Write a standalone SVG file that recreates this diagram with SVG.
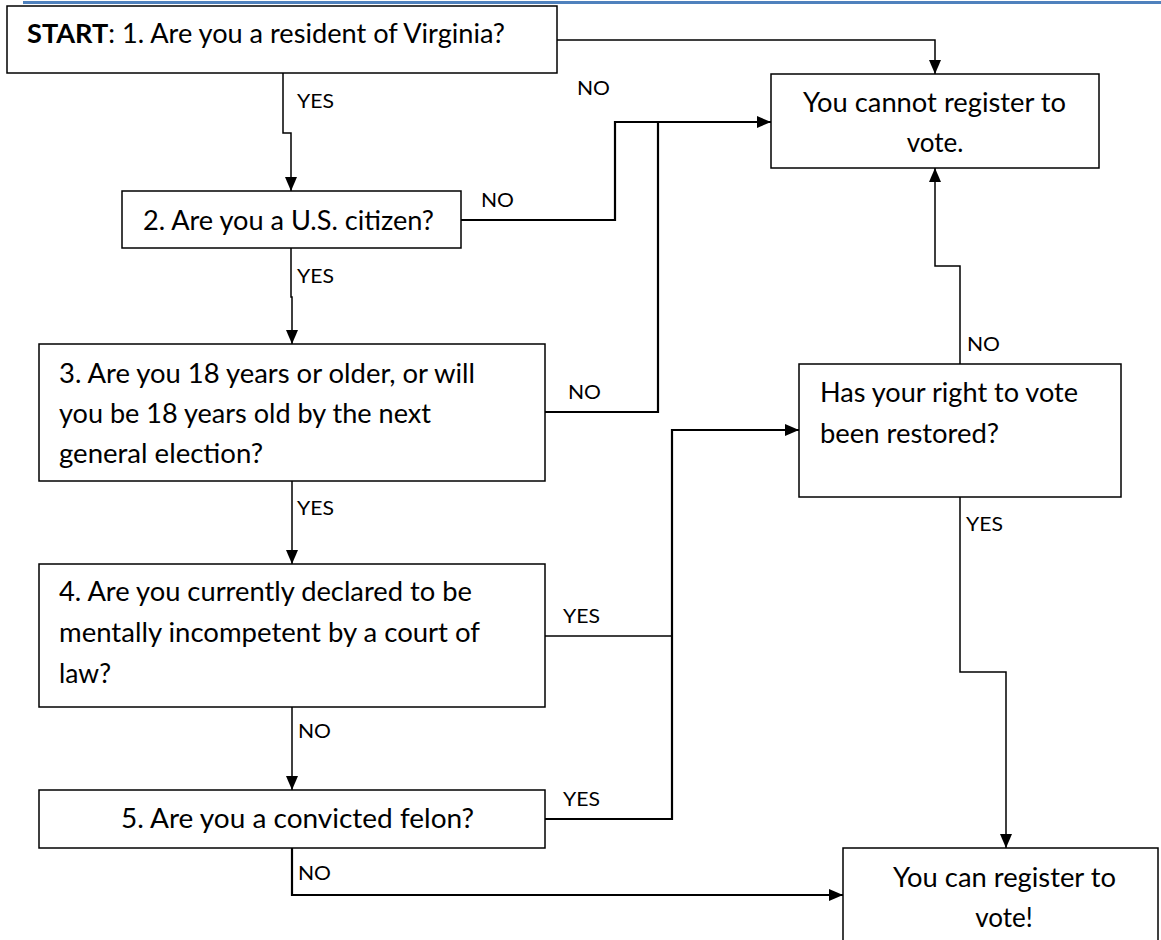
<svg xmlns="http://www.w3.org/2000/svg" width="1161" height="940" viewBox="0 0 1161 940">
<style>
.box{fill:#fff;stroke:#000;stroke-width:1.5}
.t{font-family:Lato,"Open Sans",sans-serif;font-size:26px;fill:#000}
.c{text-anchor:middle}
.lbl{font-family:Lato,"Open Sans",sans-serif;font-size:20px;fill:#000}
.con{fill:none;stroke:#000;stroke-width:1.5}
.thick{stroke-width:2.2}
</style>
<defs>
<marker id="ah" markerUnits="userSpaceOnUse" markerWidth="14" markerHeight="12" refX="14" refY="6" orient="auto" viewBox="0 0 14 12">
<path d="M0,0 L14,6 L0,12 z" fill="#000"/>
</marker>
</defs>
<rect x="0" y="0" width="1161" height="940" fill="#fff"/>
<rect x="23" y="1" width="1138" height="3" fill="#4f81bd"/>

<g id="connectors">
<path class="con" d="M557,40 H935 V74" marker-end="url(#ah)"/>
<path class="con" d="M283,73 V133 H291 V191" marker-end="url(#ah)"/>
<path class="con thick" d="M461,220 H615 V122 H771" marker-end="url(#ah)"/>
<path class="con" d="M291,248 V297 H292 V344" marker-end="url(#ah)"/>
<path class="con thick" d="M545,412 H658 V122"/>
<path class="con" d="M292,481 V564" marker-end="url(#ah)"/>
<path class="con" d="M545,636 H672"/>
<path class="con thick" d="M545,819 H672 V430 H799" marker-end="url(#ah)"/>
<path class="con" d="M292,707 V790" marker-end="url(#ah)"/>
<path class="con thick" d="M292,848 V895 H843" marker-end="url(#ah)"/>
<path class="con" d="M960,364 V266 H935 V168" marker-end="url(#ah)"/>
<path class="con" d="M960,497 V672 H1006 V848" marker-end="url(#ah)"/>
<text class="lbl" x="577" y="95" textLength="33" lengthAdjust="spacingAndGlyphs">NO</text>
<text class="lbl" x="297" y="108" textLength="37" lengthAdjust="spacingAndGlyphs">YES</text>
<text class="lbl" x="481" y="207" textLength="33" lengthAdjust="spacingAndGlyphs">NO</text>
<text class="lbl" x="297" y="283" textLength="37" lengthAdjust="spacingAndGlyphs">YES</text>
<text class="lbl" x="568" y="399" textLength="33" lengthAdjust="spacingAndGlyphs">NO</text>
<text class="lbl" x="297" y="515" textLength="37" lengthAdjust="spacingAndGlyphs">YES</text>
<text class="lbl" x="563" y="623" textLength="37" lengthAdjust="spacingAndGlyphs">YES</text>
<text class="lbl" x="298" y="738" textLength="33" lengthAdjust="spacingAndGlyphs">NO</text>
<text class="lbl" x="563" y="806" textLength="37" lengthAdjust="spacingAndGlyphs">YES</text>
<text class="lbl" x="298" y="880" textLength="33" lengthAdjust="spacingAndGlyphs">NO</text>
<text class="lbl" x="967" y="351" textLength="33" lengthAdjust="spacingAndGlyphs">NO</text>
<text class="lbl" x="966" y="531" textLength="37" lengthAdjust="spacingAndGlyphs">YES</text>
</g>

<g id="q1">
<rect class="box" x="7" y="6" width="550" height="67"/>
<text class="t" x="27" y="43" textLength="478" lengthAdjust="spacingAndGlyphs"><tspan font-weight="bold">START</tspan>: 1. Are you a resident of Virginia?</text>
</g>
<g id="cannot">
<rect class="box" x="771" y="74" width="328" height="94"/>
<text class="t" x="771" y="112" dx="32" textLength="263" lengthAdjust="spacingAndGlyphs">You cannot register to</text>
<text class="t c" x="935" y="152">vote.</text>
</g>
<g id="q2">
<rect class="box" x="122" y="191" width="339" height="57"/>
<text class="t" x="143" y="230" textLength="291" lengthAdjust="spacingAndGlyphs">2. Are you a U.S. citizen?</text>
</g>
<g id="q3">
<rect class="box" x="39" y="344" width="506" height="137"/>
<text class="t" x="59" y="383" textLength="416" lengthAdjust="spacingAndGlyphs">3. Are you 18 years or older, or will</text>
<text class="t" x="59" y="423" textLength="372" lengthAdjust="spacingAndGlyphs">you be 18 years old by the next</text>
<text class="t" x="59" y="463" textLength="204" lengthAdjust="spacingAndGlyphs">general election?</text>
</g>
<g id="q4">
<rect class="box" x="39" y="564" width="506" height="143"/>
<text class="t" x="59" y="601" textLength="413" lengthAdjust="spacingAndGlyphs">4. Are you currently declared to be</text>
<text class="t" x="59" y="642" textLength="421" lengthAdjust="spacingAndGlyphs">mentally incompetent by a court of</text>
<text class="t" x="59" y="683" textLength="52" lengthAdjust="spacingAndGlyphs">law?</text>
</g>
<g id="q5">
<rect class="box" x="39" y="790" width="506" height="58"/>
<text class="t" x="121" y="828" textLength="353" lengthAdjust="spacingAndGlyphs">5. Are you a convicted felon?</text>
</g>
<g id="restored">
<rect class="box" x="799" y="364" width="322" height="133"/>
<text class="t" x="820" y="402" textLength="258" lengthAdjust="spacingAndGlyphs">Has your right to vote</text>
<text class="t" x="820" y="443" textLength="179" lengthAdjust="spacingAndGlyphs">been restored?</text>
</g>
<g id="can">
<rect class="box" x="843" y="848" width="315" height="100"/>
<text class="t" x="893" y="887" textLength="223" lengthAdjust="spacingAndGlyphs">You can register to</text>
<text class="t c" x="1004" y="927">vote!</text>
</g>
</svg>
